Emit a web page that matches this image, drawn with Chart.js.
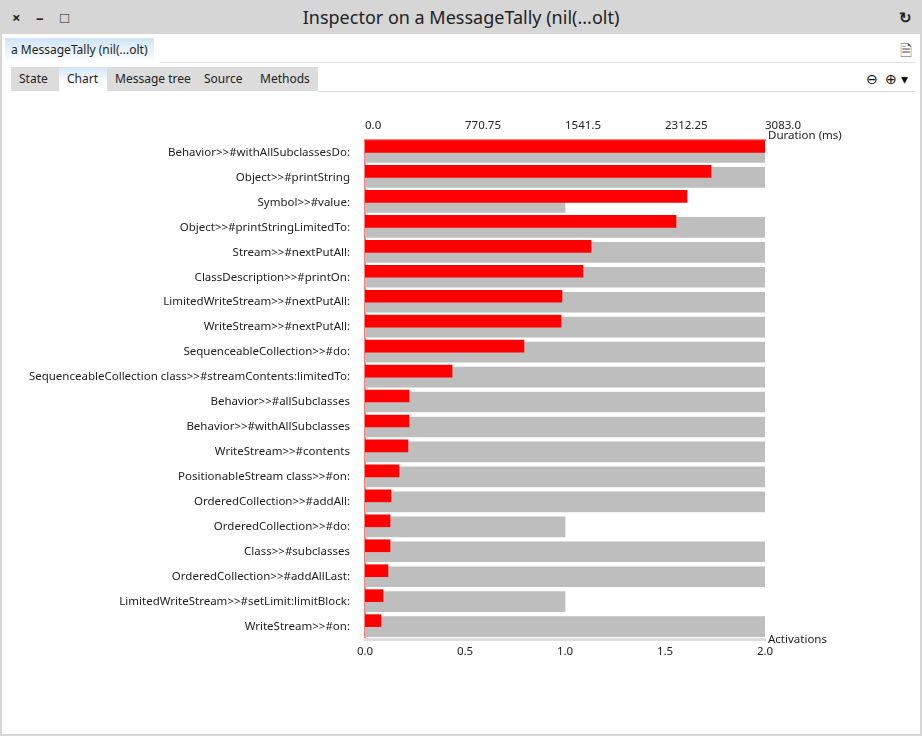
<!DOCTYPE html>
<html>
<head>
<meta charset="utf-8">
<script src="https://cdn.jsdelivr.net/npm/chart.js@4"></script>
<style>
  body { margin: 0; width: 922px; height: 736px; background: #d6d6d6; font-family: "Noto Sans", sans-serif; overflow: hidden; position: relative; }
  .titlebar { position: absolute; left: 0; top: 0; width: 922px; height: 34px; background: #d6d6d6; }
  .title { position: absolute; left: 0; right: 0; top: 5px; text-align: center; font-size: 18px; color: #222; }
  .btn { position: absolute; top: 7px; font-size: 15px; font-weight: bold; color: #222; }
  .body { position: absolute; left: 2px; top: 34px; width: 918px; height: 700px; background: #fff; }
  .tab1 { position: absolute; left: 3px; top: 4px; height: 24px; padding: 0 6px; font-size: 12px; line-height: 24px; color: #222;
          background: linear-gradient(#cfe4f7, #fff); }
  .line1 { position: absolute; left: 158px; right: 4px; top: 28px; border-top: 1px solid #ddd; }
  .tabs { position: absolute; left: 9px; top: 33px; width: 307px; height: 24px; background: #dcdcdc; font-size: 12px; }
  .tabs span { position: absolute; top: 0; line-height: 24px; color: #222; }
  .sel { position: absolute; left: 48px; top: 0; width: 48px; height: 24px; background: linear-gradient(#cfe4f7, #fff 60%); }
  .line2 { position: absolute; left: 316px; right: 4px; top: 57px; border-top: 1px solid #ddd; }
  .icons { position: absolute; right: 12px; top: 35px; font-size: 14px; color: #111; }
  .wrap { position: absolute; left: 0; top: 100px; width: 922px; height: 561px; }
  canvas { position: absolute; left: 0; top: 0; }
</style>
</head>
<body>
<div class="titlebar">
  <span class="btn" style="left:12px">×</span>
  <span class="btn" style="left:36px">–</span>
  <span class="btn" style="left:60px">□</span>
  <div class="title">Inspector on a MessageTally (nil(...olt)</div>
  <span class="btn" style="right:10px">↻</span>
</div>
<div class="body">
  <div class="tab1">a MessageTally (nil(...olt)</div>
  <div class="line1"></div>
  <span style="position:absolute;right:8px;top:6px;font-size:15px;color:#555">🗎</span>
  <div class="tabs">
    <div class="sel"></div>
    <span style="left:8px">State</span>
    <span style="left:56px">Chart</span>
    <span style="left:104px">Message tree</span>
    <span style="left:193px">Source</span>
    <span style="left:249px">Methods</span>
  </div>
  <div class="line2"></div>
  <div class="icons">⊖ &nbsp;⊕ ▾</div>
</div>
<div class="wrap">
  <canvas id="myChart" width="922" height="561"></canvas>
</div>
<script>
const methods = [
  'Behavior>>#withAllSubclassesDo:', 'Object>>#printString', 'Symbol>>#value:',
  'Object>>#printStringLimitedTo:', 'Stream>>#nextPutAll:', 'ClassDescription>>#printOn:',
  'LimitedWriteStream>>#nextPutAll:', 'WriteStream>>#nextPutAll:', 'SequenceableCollection>>#do:',
  'SequenceableCollection class>>#streamContents:limitedTo:', 'Behavior>>#allSubclasses',
  'Behavior>>#withAllSubclasses', 'WriteStream>>#contents', 'PositionableStream class>>#on:',
  'OrderedCollection>>#addAll:', 'OrderedCollection>>#do:', 'Class>>#subclasses',
  'OrderedCollection>>#addAllLast:', 'LimitedWriteStream>>#setLimit:limitBlock:', 'WriteStream>>#on:'
];
const durations = [3083, 2667, 2482, 2397, 1742, 1680, 1518, 1511, 1225, 671,
  339, 339, 331, 262, 200, 193, 193, 177, 139, 123];
const activations = [2, 2, 1, 2, 2, 2, 2, 2, 2, 2, 2, 2, 2, 2, 2, 1, 2, 2, 1, 2];
const durationTicks = [0, 770.75, 1541.5, 2312.25, 3083];
const activationTicks = [0, 0.5, 1, 1.5, 2];

Chart.defaults.font.family = '"Noto Sans", sans-serif';
Chart.defaults.font.size = 11.5;
Chart.defaults.color = '#222';

// axis names drawn to the right of each axis end
const axisNames = {
  id: 'axisNames',
  afterDraw(chart) {
    const c = chart.ctx;
    c.save();
    c.font = '11.5px "Noto Sans", sans-serif';
    c.fillStyle = '#222';
    c.textBaseline = 'middle';
    c.fillText('Duration (ms)', chart.scales.x2.right + 3, chart.scales.x2.bottom - 4);
    c.fillText('Activations', chart.scales.x.right + 3, chart.scales.x.top + 1);
    c.restore();
  }
};

var ctx = document.getElementById('myChart').getContext('2d');
// eslint-disable-next-line no-undef
var chart = new Chart(ctx, {
  type: 'bar',
  data: {
    labels: methods,
    datasets: [{
      label: 'Activations',
      data: activations,
      backgroundColor: '#bebebe',
      xAxisID: 'x', yAxisID: 'y',
      grouped: false,
      barThickness: 20,
      order: 2
    }, {
      label: 'Duration',
      data: durations,
      backgroundColor: '#ff0000',
      xAxisID: 'x2', yAxisID: 'y2',
      barThickness: 12,
      order: 1
    }, {
      label: 'spacer',
      data: durations.map(() => null),
      xAxisID: 'x2', yAxisID: 'y2',
      barThickness: 12,
      order: 1
    }]
  },
  options: {
    indexAxis: 'y',
    responsive: false,
    animation: false,
    layout: { padding: { left: 0, right: 157, top: 0, bottom: 0 } },
    plugins: { legend: { display: false }, tooltip: { enabled: false } },
    scales: {
      y: {
        position: 'left',
        grid: { display: false, drawTicks: false },
        border: { color: '#ff7f7f', width: 2 },
        ticks: { padding: 15, autoSkip: false },
        afterFit(s) { s.width = 365; }
      },
      y2: {
        position: 'left', display: false, labels: methods, offset: true
      },
      x: {
        position: 'bottom', min: 0, max: 2,
        grid: { display: false, drawTicks: true, tickLength: 4, tickColor: '#ddd' },
        border: { color: '#ddd', width: 3 },
        afterBuildTicks(s) { s.ticks = activationTicks.map(v => ({ value: v })); },
        ticks: { padding: 2, callback: v => v.toFixed(1) },
        afterFit(s) { s.height = 20; }
      },
      x2: {
        position: 'top', min: 0, max: 3083,
        grid: { display: false, drawTicks: true, tickLength: 4, tickColor: '#ff7f7f' },
        border: { color: '#ff7f7f', width: 2 },
        afterBuildTicks(s) { s.ticks = durationTicks.map(v => ({ value: v })); },
        ticks: { align: 'start', padding: 3, callback: v => Number.isInteger(v) ? v.toFixed(1) : String(v) },
        afterFit(s) { s.height = 40; }
      }
    }
  },
  plugins: [axisNames]
});
</script>
</body>
</html>
